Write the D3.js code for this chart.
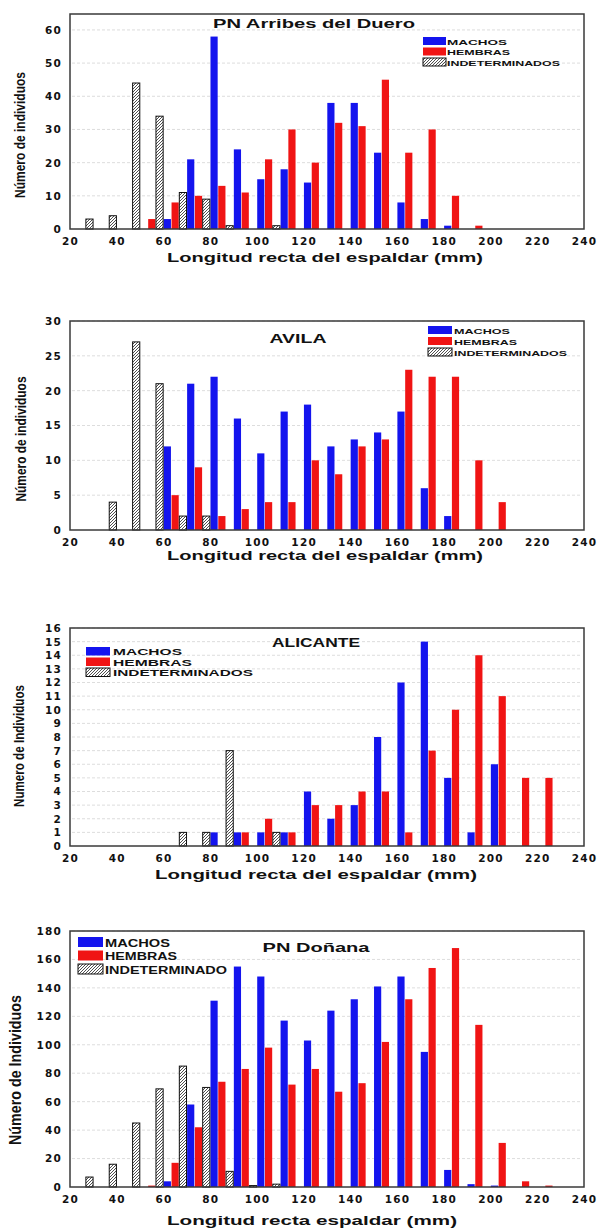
<!DOCTYPE html>
<html>
<head>
<meta charset="utf-8">
<script src="https://cdnjs.cloudflare.com/ajax/libs/d3/7.8.5/d3.min.js"></script>
<style>
  body { margin: 0; background: #fff; }
  text { font-family: "Liberation Sans", Arial, sans-serif; font-weight: bold; fill: #111; }
  .tick text { font-family: "DejaVu Sans", sans-serif; font-weight: bold; font-size: 10.5px; letter-spacing: 1.2px; }
</style>
</head>
<body>
<script>
// bins: lower edge of each 10 mm class
var bins = [20, 30, 40, 50, 60, 70, 80, 90, 100, 110, 120, 130, 140, 150, 160, 170, 180, 190, 200, 210, 220, 230];
var xTicks = [20, 40, 60, 80, 100, 120, 140, 160, 180, 200, 220, 240];

// PN Arribes del Duero
var arribesMachos  = [0, 0, 0, 0, 3, 21, 58, 24, 15, 18, 14, 38, 38, 23, 8, 3, 1, 0, 0, 0, 0, 0];
var arribesHembras = [0, 0, 0, 3, 8, 10, 13, 11, 21, 30, 20, 32, 31, 45, 23, 30, 10, 1, 0, 0, 0, 0];
var arribesIndet   = [3, 4, 44, 34, 11, 9, 1, 0, 1, 0, 0, 0, 0, 0, 0, 0, 0, 0, 0, 0, 0, 0];
var arribesYTicks  = [0, 10, 20, 30, 40, 50, 60];

// Avila
var avilaMachos  = [0, 0, 0, 0, 12, 21, 22, 16, 11, 17, 18, 12, 13, 14, 17, 6, 2, 0, 0, 0, 0, 0];
var avilaHembras = [0, 0, 0, 0, 5, 9, 2, 3, 4, 4, 10, 8, 12, 13, 23, 22, 22, 10, 4, 0, 0, 0];
var avilaIndet   = [0, 4, 27, 21, 2, 2, 0, 0, 0, 0, 0, 0, 0, 0, 0, 0, 0, 0, 0, 0, 0, 0];
var avilaYTicks  = [0, 5, 10, 15, 20, 25, 30];

// Alicante
var alicanteMachos  = [0, 0, 0, 0, 0, 0, 1, 1, 1, 1, 4, 2, 3, 8, 12, 15, 5, 1, 6, 0, 0, 0];
var alicanteHembras = [0, 0, 0, 0, 0, 0, 0, 1, 2, 1, 3, 3, 4, 4, 1, 7, 10, 14, 11, 5, 5, 0];
var alicanteIndet   = [0, 0, 0, 0, 1, 1, 7, 0, 1, 0, 0, 0, 0, 0, 0, 0, 0, 0, 0, 0, 0, 0];
var alicanteYTicks  = [0, 1, 2, 3, 4, 5, 6, 7, 8, 9, 10, 11, 12, 13, 14, 15, 16];

// PN Doñana
var donanaMachos  = [0, 0, 0, 0, 4, 58, 131, 155, 148, 117, 103, 124, 132, 141, 148, 95, 12, 2, 1, 0, 0, 0];
var donanaHembras = [0, 0, 0, 1, 17, 42, 74, 83, 98, 72, 83, 67, 73, 102, 132, 154, 168, 114, 31, 4, 1, 0];
var donanaIndet   = [7, 16, 45, 69, 85, 70, 11, 1, 2, 0, 0, 0, 0, 0, 0, 0, 0, 0, 0, 0, 0, 0];
var donanaYTicks  = [0, 20, 40, 60, 80, 100, 120, 140, 160, 180];

var legendLabels = ["MACHOS", "HEMBRAS", "INDETERMINADOS"];
var legendLabelsDonana = ["MACHOS", "HEMBRAS", "INDETERMINADO"];

var svgWidth = 599;
var svgHeight = 1229;
var plotLeft = 70;
var plotRight = 584;

var svg = d3.select("body")
  .append("svg")
  .attr("width", svgWidth)
  .attr("height", svgHeight);

svg.append("rect").attr("width", svgWidth).attr("height", svgHeight).attr("fill", "#fff");

// hatch for the "indeterminados" bars
svg.append("defs").append("pattern")
  .attr("id", "hatch")
  .attr("patternUnits", "userSpaceOnUse")
  .attr("width", 3)
  .attr("height", 3)
  .append("path")
  .attr("d", "M-1,1 l2,-2 M0,3 l3,-3 M2,4 l2,-2")
  .attr("stroke", "#222")
  .attr("stroke-width", 0.8);

var xScale = d3.scaleLinear().domain([20, 240]).range([plotLeft, plotRight]);
var slot = 10 / 3;

var panels = [
  {
    title: "PN Arribes del Duero", titleX: 314, titleY: 28, titleW: 202, titleSize: 12,
    top: 14, bottom: 229, ymax: 64.8, yTicks: arribesYTicks,
    series: [arribesMachos, arribesHembras, arribesIndet],
    yLabel: "Número de individuos", yLabelX: 25, yLabelY: 135, yLabelW: 126, yLabelSize: 14,
    xLabel: "Longitud recta del espaldar (mm)", xLabelX: 325, xLabelY: 262, xLabelW: 316,
    legend: { x: 423, y: 37, rowH: 10.5, sw: 23, sh: 8, tx: 447, size: 7.5, widths: [60, 63, 113], labels: legendLabels }
  },
  {
    title: "AVILA", titleX: 298, titleY: 343, titleW: 57, titleSize: 13,
    top: 321, bottom: 530, ymax: 30, yTicks: avilaYTicks,
    series: [avilaMachos, avilaHembras, avilaIndet],
    yLabel: "Número de individuos", yLabelX: 26, yLabelY: 439, yLabelW: 125, yLabelSize: 14,
    xLabel: "Longitud recta del espaldar (mm)", xLabelX: 325, xLabelY: 560, xLabelW: 316,
    legend: { x: 428, y: 326, rowH: 11, sw: 24, sh: 8, tx: 454, size: 7.5, widths: [56, 63, 113], labels: legendLabels }
  },
  {
    title: "ALICANTE", titleX: 316, titleY: 647, titleW: 88, titleSize: 12,
    top: 628, bottom: 846, ymax: 16, yTicks: alicanteYTicks,
    series: [alicanteMachos, alicanteHembras, alicanteIndet],
    yLabel: "Numero de Individuos", yLabelX: 24, yLabelY: 746, yLabelW: 122, yLabelSize: 14,
    xLabel: "Longitud recta del espaldar (mm)", xLabelX: 316, xLabelY: 879, xLabelW: 322,
    legend: { x: 86, y: 647, rowH: 10.5, sw: 24, sh: 8.5, tx: 113, size: 9, widths: [69, 79, 140], labels: legendLabels }
  },
  {
    title: "PN Doñana", titleX: 316, titleY: 952, titleW: 107, titleSize: 13,
    top: 931, bottom: 1187, ymax: 180, yTicks: donanaYTicks,
    series: [donanaMachos, donanaHembras, donanaIndet],
    yLabel: "Número de Individuos", yLabelX: 21, yLabelY: 1070, yLabelW: 150, yLabelSize: 17,
    xLabel: "Longitud recta espaldar (mm)", xLabelX: 312, xLabelY: 1225, xLabelW: 290,
    legend: { x: 78, y: 937, rowH: 13.5, sw: 25, sh: 10, tx: 105, size: 10.5, widths: [65, 72, 122], labels: legendLabelsDonana }
  }
];

var fills = ["#1414ee", "#f01414", "url(#hatch)"];

panels.forEach(function(p) {
  var g = svg.append("g");

  var yScale = d3.scaleLinear().domain([0, p.ymax]).range([p.bottom, p.top]);

  // faint gridlines
  g.append("g").selectAll("line")
    .data(p.yTicks.filter(function(d) { return d > 0; }))
    .enter()
    .append("line")
    .attr("x1", plotLeft + 2)
    .attr("x2", plotRight - 2)
    .attr("y1", function(d) { return yScale(d); })
    .attr("y2", function(d) { return yScale(d); })
    .attr("stroke", "#d4d4d4")
    .attr("stroke-width", 0.8)
    .attr("stroke-dasharray", "3,2");

  // bars: three sub-bars per 10 mm class
  p.series.forEach(function(values, k) {
    g.append("g").selectAll("rect")
      .data(values.map(function(v, i) { return { bin: bins[i], v: v }; }).filter(function(d) { return d.v > 0; }))
      .enter()
      .append("rect")
      .attr("x", function(d) { return xScale(d.bin + k * slot) + 0.3; })
      .attr("width", xScale(20 + slot) - xScale(20) - 0.6)
      .attr("y", function(d) { return yScale(d.v); })
      .attr("height", function(d) { return p.bottom - yScale(d.v); })
      .attr("fill", fills[k])
      .attr("stroke", k === 2 ? "#111" : "none")
      .attr("stroke-width", 1);
  });

  // frame
  g.append("rect")
    .attr("x", plotLeft)
    .attr("y", p.top)
    .attr("width", plotRight - plotLeft)
    .attr("height", p.bottom - p.top)
    .attr("fill", "none")
    .attr("stroke", "#3a3a3a")
    .attr("stroke-width", 1.5);

  // axes
  var bottomAxis = d3.axisBottom(xScale).tickValues(xTicks).tickSize(0).tickPadding(9);
  g.append("g")
    .attr("transform", `translate(0, ${p.bottom})`)
    .call(bottomAxis)
    .call(function(a) { a.select(".domain").remove(); });

  var leftAxis = d3.axisLeft(yScale).tickValues(p.yTicks).tickSize(0).tickPadding(8);
  g.append("g")
    .attr("transform", `translate(${plotLeft}, 0)`)
    .call(leftAxis)
    .call(function(a) { a.select(".domain").remove(); });

  // title
  g.append("text")
    .attr("x", p.titleX)
    .attr("y", p.titleY)
    .attr("text-anchor", "middle")
    .attr("font-size", p.titleSize)
    .attr("textLength", p.titleW)
    .attr("lengthAdjust", "spacingAndGlyphs")
    .text(p.title);

  // axis titles
  g.append("text")
    .attr("x", p.xLabelX)
    .attr("y", p.xLabelY)
    .attr("text-anchor", "middle")
    .attr("font-size", 13)
    .attr("textLength", p.xLabelW)
    .attr("lengthAdjust", "spacingAndGlyphs")
    .text(p.xLabel);

  g.append("text")
    .attr("transform", `translate(${p.yLabelX}, ${p.yLabelY}) rotate(-90)`)
    .attr("text-anchor", "middle")
    .attr("font-size", p.yLabelSize)
    .attr("textLength", p.yLabelW)
    .attr("lengthAdjust", "spacingAndGlyphs")
    .text(p.yLabel);

  // legend
  var lg = p.legend;
  lg.labels.forEach(function(label, k) {
    var y0 = lg.y + k * lg.rowH;
    g.append("rect")
      .attr("x", lg.x)
      .attr("y", y0)
      .attr("width", lg.sw)
      .attr("height", lg.sh)
      .attr("fill", fills[k])
      .attr("stroke", k === 2 ? "#111" : "none");
    g.append("text")
      .attr("x", lg.tx)
      .attr("y", y0 + lg.sh - 0.5)
      .attr("font-size", lg.size)
      .attr("textLength", lg.widths[k])
      .attr("lengthAdjust", "spacingAndGlyphs")
      .text(label);
  });
});
</script>
</body>
</html>
